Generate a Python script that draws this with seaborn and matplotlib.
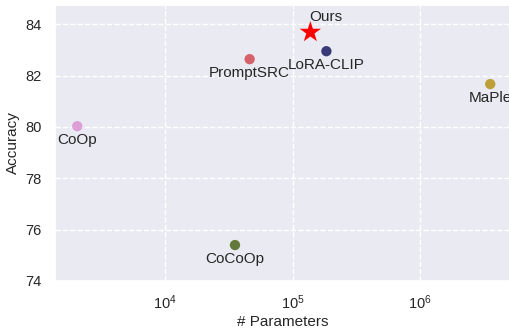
import numpy as np
import pandas as pd
import matplotlib
matplotlib.use("Agg")
import matplotlib.pyplot as plt
import seaborn as sns

methods = ["CoOp", "CoCoOp", "PromptSRC", "LoRA-CLIP", "MaPle", "Ours"]
params = [2048, 35360, 46080, 184320, 3555072, 138000]
accuracy = [80.03, 75.40, 82.64, 82.95, 81.67, 83.69]
colors = ["#de9ed6", "#637939", "#d6616b", "#393b79", "#bd9e39", "#ff0000"]

sns.set_theme(style="darkgrid", rc={"grid.linestyle": "--", "grid.color": "white"})
plt.rcParams["font.family"] = ["Liberation Sans", "DejaVu Sans"]
plt.rcParams["mathtext.fontset"] = "custom"
plt.rcParams["mathtext.rm"] = "Liberation Sans"
plt.rcParams["mathtext.it"] = "Liberation Sans"

df = pd.DataFrame({"method": methods, "params": params, "acc": accuracy})
others = df[df.method != "Ours"]
ours = df[df.method == "Ours"]

fig = plt.figure(figsize=(5.1, 3.31), dpi=100)
ax = fig.add_axes([55 / 510, 50 / 331, 455 / 510, 276 / 331])

sns.scatterplot(data=others, x="params", y="acc", hue="method",
                palette=dict(zip(methods, colors)), s=55, edgecolor="none",
                legend=False, ax=ax)
sns.scatterplot(data=ours, x="params", y="acc", marker="*", color="red",
                s=260, edgecolor="none", legend=False, ax=ax)

ax.set_xscale("log")
ax.set_xlim(1370, 5.08e6)
ax.set_ylim(74, 84.75)
ax.set_yticks([74, 76, 78, 80, 82, 84])
ax.minorticks_off()
ax.xaxis.set_minor_locator(matplotlib.ticker.NullLocator())
ax.tick_params(axis="both", labelsize=10.5, colors="#262626")
ax.tick_params(axis="x", pad=3)
ax.set_xlabel("# Parameters", fontsize=11, labelpad=2)
ax.set_ylabel("Accuracy", fontsize=11)

for m, x, y in zip(methods, params, accuracy):
    if m == "Ours":
        ax.annotate(m, (x, y), xytext=(11, 11), textcoords="offset points",
                    ha="center", va="center", fontsize=11, color="#262626")
    else:
        ax.annotate(m, (x, y), xytext=(0, -10), textcoords="offset points",
                    ha="center", va="center", fontsize=11, color="#262626")

fig.savefig("out.png", dpi=100)
